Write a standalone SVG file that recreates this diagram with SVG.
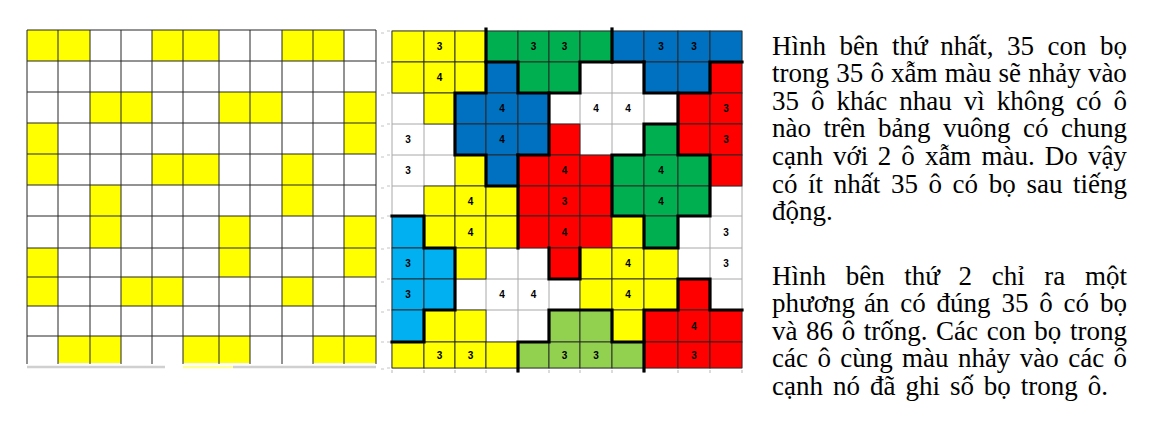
<svg xmlns="http://www.w3.org/2000/svg" width="1155" height="434" viewBox="0 0 1155 434">
<style>
.yl{fill:#ffff00}
.gr{fill:#00b050}
.bl{fill:#0070c0}
.rd{fill:#ff0000}
.lb{fill:#00b0f0}
.lg{fill:#92d050}
.c rect{stroke:#262626;stroke-width:0.9}
.gl{stroke:#262626;stroke-width:1;fill:none}
.gg{stroke:#a8a8a8;stroke-width:1;fill:none}
.thick{stroke:#000;stroke-width:3.2;fill:none;stroke-linecap:square;stroke-linejoin:miter}
.num{font-family:"Liberation Sans",Arial,sans-serif;font-size:10px;font-weight:bold;fill:#000;text-anchor:middle}
.txt{font-family:"Liberation Serif","Times New Roman",serif;font-size:27px;fill:#000}
.tick{stroke:#c4c4c4;stroke-width:1.2;fill:none}
</style>
<rect width="1155" height="434" fill="#fff"/>

<g id="grid-left">
  <g id="left-cells">
    <rect class="yl" x="27" y="30" width="31" height="31"/><rect class="yl" x="58" y="30" width="32" height="31"/><rect class="yl" x="152" y="30" width="31" height="31"/><rect class="yl" x="183" y="30" width="36" height="31"/><rect class="yl" x="282" y="30" width="31" height="31"/><rect class="yl" x="313" y="30" width="31" height="31"/>
    <rect class="yl" x="90" y="92" width="31" height="31"/><rect class="yl" x="121" y="92" width="31" height="31"/><rect class="yl" x="219" y="92" width="31" height="31"/><rect class="yl" x="250" y="92" width="32" height="31"/><rect class="yl" x="344" y="92" width="32" height="31"/>
    <rect class="yl" x="27" y="123" width="31" height="31"/><rect class="yl" x="344" y="123" width="32" height="31"/>
    <rect class="yl" x="27" y="154" width="31" height="31"/><rect class="yl" x="152" y="154" width="31" height="31"/><rect class="yl" x="183" y="154" width="36" height="31"/><rect class="yl" x="282" y="154" width="31" height="31"/>
    <rect class="yl" x="90" y="185" width="31" height="31"/><rect class="yl" x="282" y="185" width="31" height="31"/>
    <rect class="yl" x="90" y="216" width="31" height="32"/><rect class="yl" x="219" y="216" width="31" height="32"/><rect class="yl" x="344" y="216" width="32" height="32"/>
    <rect class="yl" x="27" y="248" width="31" height="29"/><rect class="yl" x="219" y="248" width="31" height="29"/><rect class="yl" x="344" y="248" width="32" height="29"/>
    <rect class="yl" x="27" y="277" width="31" height="29"/><rect class="yl" x="121" y="277" width="31" height="29"/><rect class="yl" x="152" y="277" width="31" height="29"/><rect class="yl" x="282" y="277" width="31" height="29"/>
    <rect class="yl" x="58" y="336" width="32" height="27"/><rect class="yl" x="90" y="336" width="31" height="27"/><rect class="yl" x="183" y="336" width="36" height="27"/><rect class="yl" x="219" y="336" width="31" height="27"/><rect class="yl" x="313" y="336" width="31" height="27"/><rect class="yl" x="344" y="336" width="32" height="27"/>
  </g>
  <path class="gl" d="M27,30V364M58,30V364M90,30V364M121,30V364M152,30V364M183,30V364M219,30V364M250,30V364M282,30V364M313,30V364M344,30V364M376,30V364M27,30H376M27,61H376M27,92H376M27,123H376M27,154H376M27,185H376M27,216H376M27,248H376M27,277H376M27,306H376M27,336H376"/>
  <path d="M27,367H165M233,367H376" stroke="#d0d0d0" stroke-width="2.5" fill="none"/>
  <path d="M183,367H233" stroke="#ffff9a" stroke-width="2.5" fill="none"/>
</g>

<g id="ticks">
  <path class="tick" d="M381,33H384M381,63H384M381,95H384M381,126H384M381,157H384M381,188H384M381,218H384M381,249H384M381,282H384M381,312H384M381,342H384M381,369H384"/>
  <path class="tick" d="M387,31H390M387,62H390M387,93H390M387,124H390M387,155H390M387,186H390M387,216H390M387,248H390M387,279H390M387,310H390M387,342H390M387,368H390"/>
  <path class="tick" d="M392,370V373M424,370V373M455,370V373M486,370V373M518,370V373M549,370V373M580,370V373M612,370V373M644,370V373M678,370V373M710,370V373M742,370V373"/>
</g>

<g id="grid-right">
  <path class="gg" d="M392,31V368M424,31V368M455,31V368M486,31V368M518,31V368M549,31V368M580,31V368M612,31V368M644,31V368M678,31V368M710,31V368M742,31V368M392,31H742M392,62H742M392,93H742M392,124H742M392,155H742M392,186H742M392,216H742M392,248H742M392,279H742M392,310H742M392,342H742M392,368H742"/>
  <g id="right-cells" class="c">
    <rect class="yl" x="392" y="31" width="32" height="31"/><rect class="yl" x="424" y="31" width="31" height="31"/><rect class="yl" x="455" y="31" width="31" height="31"/><rect class="gr" x="486" y="31" width="32" height="31"/><rect class="gr" x="518" y="31" width="31" height="31"/><rect class="gr" x="549" y="31" width="31" height="31"/><rect class="gr" x="580" y="31" width="32" height="31"/><rect class="bl" x="612" y="31" width="32" height="31"/><rect class="bl" x="644" y="31" width="34" height="31"/><rect class="bl" x="678" y="31" width="32" height="31"/><rect class="bl" x="710" y="31" width="32" height="31"/>
    <rect class="yl" x="392" y="62" width="32" height="31"/><rect class="yl" x="424" y="62" width="31" height="31"/><rect class="yl" x="455" y="62" width="31" height="31"/><rect class="bl" x="486" y="62" width="32" height="31"/><rect class="gr" x="518" y="62" width="31" height="31"/><rect class="gr" x="549" y="62" width="31" height="31"/><rect class="bl" x="644" y="62" width="34" height="31"/><rect class="bl" x="678" y="62" width="32" height="31"/><rect class="rd" x="710" y="62" width="32" height="31"/>
    <rect class="yl" x="424" y="93" width="31" height="31"/><rect class="bl" x="455" y="93" width="31" height="31"/><rect class="bl" x="486" y="93" width="32" height="31"/><rect class="bl" x="518" y="93" width="31" height="31"/><rect class="rd" x="678" y="93" width="32" height="31"/><rect class="rd" x="710" y="93" width="32" height="31"/>
    <rect class="bl" x="455" y="124" width="31" height="31"/><rect class="bl" x="486" y="124" width="32" height="31"/><rect class="bl" x="518" y="124" width="31" height="31"/><rect class="rd" x="549" y="124" width="31" height="31"/><rect class="gr" x="644" y="124" width="34" height="31"/><rect class="rd" x="678" y="124" width="32" height="31"/><rect class="rd" x="710" y="124" width="32" height="31"/>
    <rect class="yl" x="455" y="155" width="31" height="31"/><rect class="bl" x="486" y="155" width="32" height="31"/><rect class="rd" x="518" y="155" width="31" height="31"/><rect class="rd" x="549" y="155" width="31" height="31"/><rect class="rd" x="580" y="155" width="32" height="31"/><rect class="gr" x="612" y="155" width="32" height="31"/><rect class="gr" x="644" y="155" width="34" height="31"/><rect class="gr" x="678" y="155" width="32" height="31"/><rect class="rd" x="710" y="155" width="32" height="31"/>
    <rect class="yl" x="424" y="186" width="31" height="30"/><rect class="yl" x="455" y="186" width="31" height="30"/><rect class="yl" x="486" y="186" width="32" height="30"/><rect class="rd" x="518" y="186" width="31" height="30"/><rect class="rd" x="549" y="186" width="31" height="30"/><rect class="rd" x="580" y="186" width="32" height="30"/><rect class="gr" x="612" y="186" width="32" height="30"/><rect class="gr" x="644" y="186" width="34" height="30"/><rect class="gr" x="678" y="186" width="32" height="30"/>
    <rect class="lb" x="392" y="216" width="32" height="32"/><rect class="yl" x="424" y="216" width="31" height="32"/><rect class="yl" x="455" y="216" width="31" height="32"/><rect class="yl" x="486" y="216" width="32" height="32"/><rect class="rd" x="518" y="216" width="31" height="32"/><rect class="rd" x="549" y="216" width="31" height="32"/><rect class="rd" x="580" y="216" width="32" height="32"/><rect class="yl" x="612" y="216" width="32" height="32"/><rect class="gr" x="644" y="216" width="34" height="32"/>
    <rect class="lb" x="392" y="248" width="32" height="31"/><rect class="lb" x="424" y="248" width="31" height="31"/><rect class="yl" x="455" y="248" width="31" height="31"/><rect class="rd" x="549" y="248" width="31" height="31"/><rect class="yl" x="580" y="248" width="32" height="31"/><rect class="yl" x="612" y="248" width="32" height="31"/><rect class="yl" x="644" y="248" width="34" height="31"/>
    <rect class="lb" x="392" y="279" width="32" height="31"/><rect class="lb" x="424" y="279" width="31" height="31"/><rect class="yl" x="580" y="279" width="32" height="31"/><rect class="yl" x="612" y="279" width="32" height="31"/><rect class="yl" x="644" y="279" width="34" height="31"/><rect class="rd" x="678" y="279" width="32" height="31"/>
    <rect class="lb" x="392" y="310" width="32" height="32"/><rect class="yl" x="424" y="310" width="31" height="32"/><rect class="yl" x="455" y="310" width="31" height="32"/><rect class="lg" x="549" y="310" width="31" height="32"/><rect class="lg" x="580" y="310" width="32" height="32"/><rect class="yl" x="612" y="310" width="32" height="32"/><rect class="rd" x="644" y="310" width="34" height="32"/><rect class="rd" x="678" y="310" width="32" height="32"/><rect class="rd" x="710" y="310" width="32" height="32"/>
    <rect class="yl" x="392" y="342" width="32" height="26"/><rect class="yl" x="424" y="342" width="31" height="26"/><rect class="yl" x="455" y="342" width="31" height="26"/><rect class="yl" x="486" y="342" width="32" height="26"/><rect class="lg" x="518" y="342" width="31" height="26"/><rect class="lg" x="549" y="342" width="31" height="26"/><rect class="lg" x="580" y="342" width="32" height="26"/><rect class="lg" x="612" y="342" width="32" height="26"/><rect class="rd" x="644" y="342" width="34" height="26"/><rect class="rd" x="678" y="342" width="32" height="26"/><rect class="rd" x="710" y="342" width="32" height="26"/>
  </g>
  <g id="right-numbers" class="num">
    <text x="439.5" y="50">3</text><text x="533.5" y="50">3</text><text x="564.5" y="50">3</text><text x="661" y="50">3</text><text x="694" y="50">3</text>
    <text x="439.5" y="81">4</text>
    <text x="502" y="112">4</text><text x="596" y="112">4</text><text x="628" y="112">4</text><text x="726" y="112">3</text>
    <text x="408" y="143">3</text><text x="502" y="143">4</text><text x="726" y="143">3</text>
    <text x="408" y="174">3</text><text x="564.5" y="174">4</text><text x="661" y="174">4</text>
    <text x="470.5" y="204.5">4</text><text x="564.5" y="204.5">3</text><text x="661" y="204.5">4</text>
    <text x="470.5" y="235.5">4</text><text x="564.5" y="235.5">4</text><text x="726" y="235.5">3</text>
    <text x="408" y="267">3</text><text x="628" y="267">4</text><text x="726" y="267">3</text>
    <text x="408" y="298">3</text><text x="502" y="298">4</text><text x="533.5" y="298">4</text><text x="628" y="298">4</text>
    <text x="694" y="329.5">4</text>
    <text x="439.5" y="358.5">3</text><text x="470.5" y="358.5">3</text><text x="564.5" y="358.5">3</text><text x="596" y="358.5">3</text><text x="694" y="358.5">3</text>
  </g>
</g>

<g id="connectors">
  <path class="thick" d="M486,29V93H455V155H486V186H518"/>
  <path class="thick" d="M518,155V248"/>
  <path class="thick" d="M518,155H549V93"/>
  <path class="thick" d="M486,62H518V93H580V62H644"/>
  <path class="thick" d="M612,29V62"/>
  <path class="thick" d="M644,62V93H710V62H742"/>
  <path class="thick" d="M678,93V155H710V216H678V248H644V216H612V155H644V124H678"/>
  <path class="thick" d="M549,248V279H580V248"/>
  <path class="thick" d="M392,216H424V248H455V310H424V342H392"/>
  <path class="thick" d="M518,371V342H549V310H612V342H644"/>
  <path class="thick" d="M644,371V310H678V279H710V310H742"/>
</g>

<g id="text" class="txt">
  <text y="54.5"><tspan x="772">Hình</tspan><tspan x="839.6">bên</tspan><tspan x="892.1">thứ</tspan><tspan x="940.2">nhất,</tspan><tspan x="1006.9">35</tspan><tspan x="1047.5">con</tspan><tspan x="1100">bọ</tspan></text>
  <text y="82.1"><tspan x="772">trong</tspan><tspan x="836.2">35</tspan><tspan x="870.4">ô</tspan><tspan x="891.1">xẫm</tspan><tspan x="944.8">màu</tspan><tspan x="998.5">sẽ</tspan><tspan x="1028.2">nhảy</tspan><tspan x="1087.9">vào</tspan></text>
  <text y="109.7"><tspan x="772">35</tspan><tspan x="810.9">ô</tspan><tspan x="836.4">khác</tspan><tspan x="899.3">nhau</tspan><tspan x="963.7">vì</tspan><tspan x="996.7">không</tspan><tspan x="1076.1">có</tspan><tspan x="1113.5">ô</tspan></text>
  <text y="137.3"><tspan x="772">nào</tspan><tspan x="823.5">trên</tspan><tspan x="878">bảng</tspan><tspan x="943">vuông</tspan><tspan x="1023">có</tspan><tspan x="1061">chung</tspan></text>
  <text y="164.9"><tspan x="772">cạnh</tspan><tspan x="833.1">với</tspan><tspan x="877.7">2</tspan><tspan x="901.3">ô</tspan><tspan x="924.9">xẫm</tspan><tspan x="981.5">màu.</tspan><tspan x="1044.8">Do</tspan><tspan x="1087.9">vậy</tspan></text>
  <text y="192.5"><tspan x="772">có</tspan><tspan x="808.1">ít</tspan><tspan x="833.8">nhất</tspan><tspan x="890.9">35</tspan><tspan x="928.5">ô</tspan><tspan x="952.6">có</tspan><tspan x="988.8">bọ</tspan><tspan x="1026.4">sau</tspan><tspan x="1073">tiếng</tspan></text>
  <text y="220.1" x="772">động.</text>
  <text y="284.5"><tspan x="772">Hình</tspan><tspan x="845.7">bên</tspan><tspan x="904.3">thứ</tspan><tspan x="958.5">2</tspan><tspan x="991.7">chỉ</tspan><tspan x="1044.3">ra</tspan><tspan x="1085">một</tspan></text>
  <text y="312"><tspan x="772">phương</tspan><tspan x="863.9">án</tspan><tspan x="900.2">có</tspan><tspan x="936.6">đúng</tspan><tspan x="1001.4">35</tspan><tspan x="1039.3">ô</tspan><tspan x="1063.6">có</tspan><tspan x="1100">bọ</tspan></text>
  <text y="339.5"><tspan x="772">và</tspan><tspan x="806.1">86</tspan><tspan x="841.7">ô</tspan><tspan x="863.8">trống.</tspan><tspan x="936.1">Các</tspan><tspan x="986.7">con</tspan><tspan x="1034.3">bọ</tspan><tspan x="1069.9">trong</tspan></text>
  <text y="367"><tspan x="772">các</tspan><tspan x="817.4">ô</tspan><tspan x="840.2">cùng</tspan><tspan x="902.1">màu</tspan><tspan x="957.9">nhảy</tspan><tspan x="1019.8">vào</tspan><tspan x="1068.2">các</tspan><tspan x="1113.5">ô</tspan></text>
  <text y="394.5"><tspan x="772">cạnh</tspan><tspan x="833">nó</tspan><tspan x="870">đã</tspan><tspan x="905.4">ghi</tspan><tspan x="949.9">số</tspan><tspan x="983.8">bọ</tspan><tspan x="1020.8">trong</tspan><tspan x="1087.7">ô.</tspan></text>
</g>
</svg>
